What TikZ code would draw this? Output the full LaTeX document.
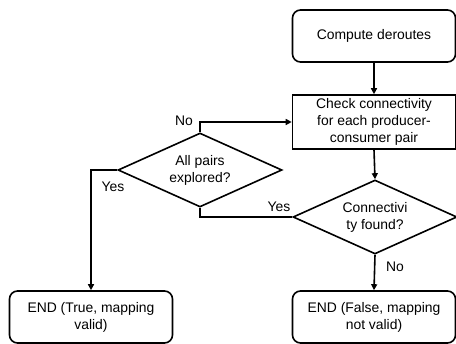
\documentclass[tikz,border=0pt]{standalone}
\usepackage{fontspec}
\setmainfont{Liberation Sans}
\usetikzlibrary{shapes.geometric,arrows.meta}
\begin{document}
\begin{tikzpicture}[x=1pt,y=-1pt,
  font=\fontsize{13.9}{17}\selectfont,
  every node/.style={align=center},
  rbox/.style={draw,line width=1.6pt,rounded corners=8pt,minimum width=163pt,minimum height=52pt,inner sep=0pt},
  sbox/.style={draw,line width=1.6pt,minimum width=163pt,minimum height=54pt,inner sep=0pt},
  dec/.style={draw,line width=1.6pt,diamond,aspect=2.2,inner sep=0pt,minimum width=164pt,minimum height=74pt},
  conn/.style={line width=1.6pt},
  arr/.style={line width=1.6pt,-{Triangle[length=6pt,width=6pt]}},
  lbl/.style={inner sep=1pt}
]
\useasboundingbox (0,0) rectangle (456,344);
\node[rbox] (compute) at (374,36) {Compute deroutes};
\node[sbox] (check) at (374,122) {Check connectivity\\for each producer-\\consumer pair};
\node[dec] (allpairs) at (200,170) {All pairs\\explored?};
\node[dec] (found) at (375,217) {Connectivi\\ty found?};
\node[rbox] (endT) at (91,317) {END (True, mapping\\valid)};
\node[rbox] (endF) at (374,317) {END (False, mapping\\not valid)};

\draw[arr] (compute.south) -- (check.north);
\draw[arr] (check.south) -- (found.north);
\draw[arr] (found.south) -- (endF.north);
\draw[conn] (found.west) -| (allpairs.south);
\draw[arr] (allpairs.north) |- (check.west);
\draw[arr] (allpairs.west) -| (endT.north);

\node[lbl] (noA) at (184,121) {No};
\node[lbl] (yesA) at (113,187) {Yes};
\node[lbl] (yesB) at (279,207) {Yes};
\node[lbl] (noB) at (395,267) {No};
\end{tikzpicture}
\end{document}
